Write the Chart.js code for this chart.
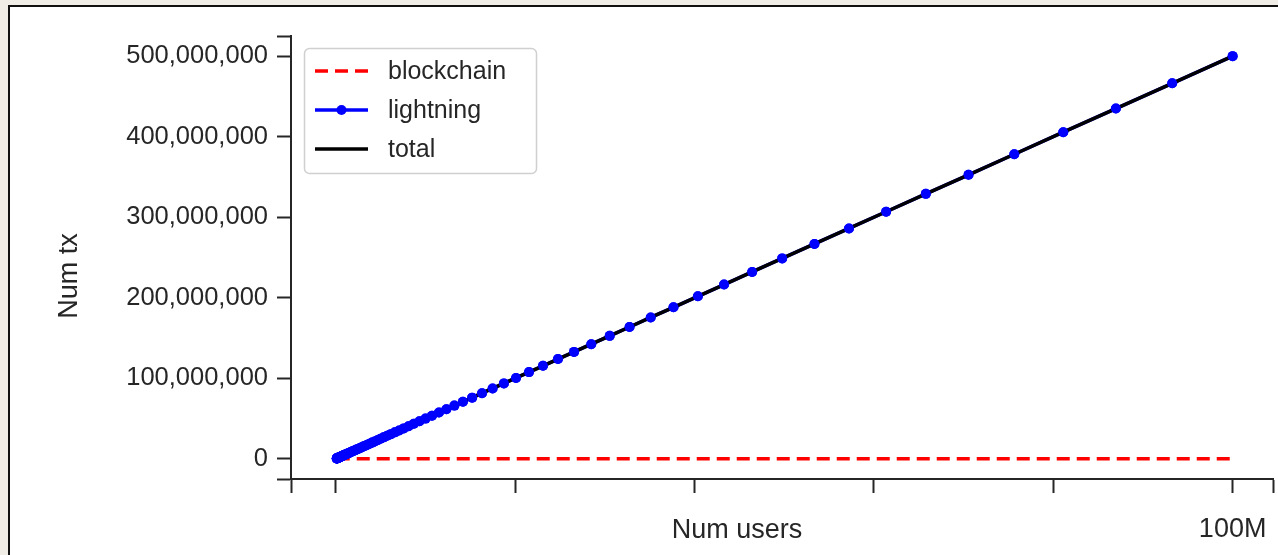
<!DOCTYPE html>
<html>
<head>
<meta charset="utf-8">
<script src="https://cdn.jsdelivr.net/npm/chart.js@4.4.1/dist/chart.umd.min.js"></script>
<style>
  html, body { margin: 0; padding: 0; overflow: hidden; }
  body { width: 1278px; height: 555px; background: #f0ede6; position: relative; }
  #frame {
    position: absolute; left: 8px; top: 5px; width: 1400px; height: 700px;
    border-left: 2px solid #111; border-top: 2px solid #111; background: #fff;
  }
  #chart { position: absolute; left: 0; top: 0; }
</style>
</head>
<body>
<div id="frame"></div>
<canvas id="chart" width="1278" height="555"></canvas>
<script>
// number of users (millions), log-spaced sample points
const usersM = [
  0.1000, 0.1072, 0.1150, 0.1233, 0.1322, 0.1417, 0.1520, 0.1630, 0.1748, 0.1874, 0.2009,
  0.2154, 0.2310, 0.2477, 0.2656, 0.2848, 0.3054, 0.3275, 0.3511, 0.3765, 0.4037, 0.4329,
  0.4642, 0.4977, 0.5337, 0.5722, 0.6136, 0.6579, 0.7055, 0.7565, 0.8111, 0.8698, 0.9326,
  1.000, 1.072, 1.150, 1.233, 1.322, 1.417, 1.520, 1.630, 1.748, 1.874, 2.009,
  2.154, 2.310, 2.477, 2.656, 2.848, 3.054, 3.275, 3.511, 3.765, 4.037, 4.329,
  4.642, 4.977, 5.337, 5.722, 6.136, 6.579, 7.055, 7.565, 8.111, 8.698, 9.326,
  10.00, 10.72, 11.50, 12.33, 13.22, 14.17, 15.20, 16.30, 17.48, 18.74, 20.09,
  21.54, 23.10, 24.77, 26.56, 28.48, 30.54, 32.75, 35.11, 37.65, 40.37, 43.29,
  46.42, 49.77, 53.37, 57.22, 61.36, 65.79, 70.55, 75.65, 81.11, 86.98, 93.26,
  100.0
];

// lightning transactions (millions)
const lightningM = [
  0.500, 0.536, 0.575, 0.616, 0.661, 0.709, 0.760, 0.815, 0.874, 0.937, 1.005,
  1.077, 1.155, 1.239, 1.328, 1.424, 1.527, 1.637, 1.756, 1.882, 2.018, 2.164,
  2.321, 2.489, 2.668, 2.861, 3.068, 3.290, 3.527, 3.782, 4.056, 4.349, 4.663,
  5.00, 5.36, 5.75, 6.16, 6.61, 7.09, 7.60, 8.15, 8.74, 9.37, 10.05,
  10.77, 11.55, 12.39, 13.28, 14.24, 15.27, 16.37, 17.56, 18.82, 20.18, 21.64,
  23.21, 24.89, 26.68, 28.61, 30.68, 32.90, 35.27, 37.82, 40.56, 43.49, 46.63,
  50.0, 53.6, 57.5, 61.6, 66.1, 70.9, 76.0, 81.5, 87.4, 93.7, 100.5,
  107.7, 115.5, 123.9, 132.8, 142.4, 152.7, 163.7, 175.6, 188.2, 201.8, 216.4,
  232.1, 248.9, 266.8, 286.1, 306.8, 329.0, 352.7, 378.2, 405.6, 434.9, 466.3,
  500.0
];

// on-chain transactions (millions) - stays flat at the bottom
const blockchainM = [
  0, 0, 0, 0, 0, 0, 0, 0, 0, 0, 0,
  0, 0, 0, 0, 0, 0, 0, 0, 0, 0, 0,
  0, 0, 0, 0, 0, 0, 0, 0, 0, 0, 0,
  0, 0, 0, 0, 0, 0, 0, 0, 0, 0, 0,
  0, 0, 0, 0, 0, 0, 0, 0, 0, 0, 0,
  0, 0, 0, 0, 0, 0, 0, 0, 0, 0, 0,
  0, 0, 0, 0, 0, 0, 0, 0, 0, 0, 0,
  0, 0, 0, 0, 0, 0, 0, 0, 0, 0, 0,
  0, 0, 0, 0, 0, 0, 0, 0, 0, 0, 0,
  0
];

const seriesNames = ['blockchain', 'lightning', 'total'];

const xTicks = [0, 20e6, 40e6, 60e6, 80e6, 100e6];
const xTickLabels = ['', '', '', '', '', '100M'];
const yTicks = [0, 100e6, 200e6, 300e6, 400e6, 500e6];
const yTickLabels = ['0', '100,000,000', '200,000,000', '300,000,000', '400,000,000', '500,000,000'];

const xTitle = 'Num users';
const yTitle = 'Num tx';

const FONT = "'Liberation Sans', Arial, sans-serif";
const TEXT = '#262626';

function toPoints(ys) {
  return usersM.map((u, i) => ({ x: u * 1e6, y: ys[i] * 1e6 }));
}
const totalM = usersM.map((u, i) => blockchainM[i] + lightningM[i]);

// lightning markers sit on top of the black total line
const markersOnTop = {
  id: 'markersOnTop',
  afterDatasetsDraw(chart) {
    const meta = chart.getDatasetMeta(1);
    meta.data.forEach(pt => pt.draw(chart.ctx, chart.chartArea));
  }
};

// matplotlib-like legend box in the upper left corner
const boxLegend = {
  id: 'boxLegend',
  afterDraw(chart) {
    const ctx = chart.ctx;
    ctx.save();
    const bx = 304.5, by = 48.5, bw = 232, bh = 125, r = 5;
    ctx.beginPath();
    ctx.moveTo(bx + r, by);
    ctx.arcTo(bx + bw, by, bx + bw, by + bh, r);
    ctx.arcTo(bx + bw, by + bh, bx, by + bh, r);
    ctx.arcTo(bx, by + bh, bx, by, r);
    ctx.arcTo(bx, by, bx + bw, by, r);
    ctx.closePath();
    ctx.fillStyle = 'rgba(255,255,255,0.85)';
    ctx.fill();
    ctx.strokeStyle = '#d0d0d0';
    ctx.lineWidth = 1.5;
    ctx.stroke();

    chart.data.datasets.forEach((ds, i) => {
      const y = 71 + i * 39;
      ctx.beginPath();
      ctx.setLineDash(ds.borderDash || []);
      ctx.strokeStyle = ds.borderColor;
      ctx.lineWidth = ds.borderWidth;
      ctx.moveTo(315, y);
      ctx.lineTo(368, y);
      ctx.stroke();
      ctx.setLineDash([]);
      if (ds.pointRadius > 0) {
        ctx.beginPath();
        ctx.fillStyle = ds.pointBackgroundColor;
        ctx.arc(341.5, y, ds.pointRadius, 0, Math.PI * 2);
        ctx.fill();
      }
      ctx.fillStyle = TEXT;
      ctx.font = '25px ' + FONT;
      ctx.textAlign = 'left';
      ctx.textBaseline = 'middle';
      ctx.fillText(ds.label, 388, y + 1);
    });
    ctx.restore();
  }
};

// axis titles
const axisTitles = {
  id: 'axisTitles',
  afterDraw(chart) {
    const ctx = chart.ctx;
    ctx.save();
    ctx.fillStyle = TEXT;
    ctx.font = '27px ' + FONT;
    ctx.textAlign = 'center';
    ctx.textBaseline = 'alphabetic';
    ctx.fillText(xTitle, 737, 538);
    ctx.translate(77, 276);
    ctx.rotate(-Math.PI / 2);
    ctx.fillText(yTitle, 0, 0);
    ctx.restore();
  }
};

new Chart(document.getElementById('chart').getContext('2d'), {
  type: 'line',
  data: {
    datasets: [
      {
        label: seriesNames[0],
        data: toPoints(blockchainM),
        borderColor: '#ff0000',
        borderWidth: 3.5,
        borderDash: [13, 7],
        pointRadius: 0,
        order: 0
      },
      {
        label: seriesNames[1],
        data: toPoints(lightningM),
        borderColor: '#0000ff',
        borderWidth: 3.5,
        pointRadius: 5,
        pointBackgroundColor: '#0000ff',
        pointBorderWidth: 0,
        order: 2
      },
      {
        label: seriesNames[2],
        data: toPoints(totalM),
        borderColor: '#000000',
        borderWidth: 3.5,
        pointRadius: 0,
        order: 1
      }
    ]
  },
  options: {
    responsive: false,
    animation: false,
    events: [],
    layout: { padding: { left: 0, top: 36, right: 3, bottom: 0 } },
    plugins: {
      legend: { display: false },
      tooltip: { enabled: false },
      title: { display: false }
    },
    scales: {
      x: {
        type: 'linear',
        min: -5e6,
        max: 104.5e6,
        afterBuildTicks(scale) {
          scale.ticks = [scale.min, ...xTicks, scale.max].map(v => ({ value: v }));
        },
        afterFit(scale) {
          // the label padding should not shrink the plot horizontally
          scale.height = 76;
          scale.paddingLeft = 0;
          scale.paddingRight = 0;
        },
        ticks: {
          autoSkip: false,
          maxRotation: 0,
          padding: 20,
          color: TEXT,
          font: { family: FONT, size: 27 },
          callback(value) {
            const i = xTicks.indexOf(value);
            return i >= 0 ? xTickLabels[i] : '';
          }
        },
        grid: {
          drawOnChartArea: false,
          drawTicks: true,
          tickLength: 14,
          tickWidth: 2,
          color: TEXT
        },
        border: { display: true, width: 2, color: TEXT }
      },
      y: {
        type: 'linear',
        min: -25e6,
        max: 525e6,
        afterBuildTicks(scale) {
          scale.ticks = [scale.min, ...yTicks, scale.max].map(v => ({ value: v }));
        },
        afterFit(scale) { scale.width = 291; },
        ticks: {
          autoSkip: false,
          padding: 9,
          color: TEXT,
          font: { family: FONT, size: 25.5 },
          callback(value) {
            const i = yTicks.indexOf(value);
            return i >= 0 ? yTickLabels[i] : '';
          }
        },
        grid: {
          drawOnChartArea: false,
          drawTicks: true,
          tickLength: 14,
          tickWidth: 2,
          color: TEXT
        },
        border: { display: true, width: 2, color: TEXT }
      }
    }
  },
  plugins: [markersOnTop, boxLegend, axisTitles]
});
</script>
</body>
</html>
